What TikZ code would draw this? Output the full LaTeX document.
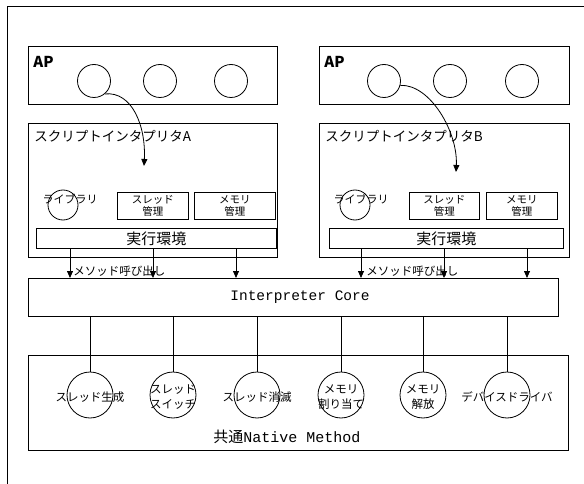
\documentclass[tikz,border=0pt]{standalone}
\usepackage{fontspec}
\setmainfont{Noto Sans CJK JP}
\newfontfamily\monofont{Liberation Mono}
\usetikzlibrary{arrows.meta}

\begin{document}
\begin{tikzpicture}[x=1pt,y=-1pt,line width=0.8pt,
  blk/.style={draw,rectangle,inner sep=0pt,anchor=north west},
  apball/.style={draw,circle,minimum size=33pt,inner sep=0pt},
  lib/.style={draw,circle,minimum size=30pt,inner sep=0pt},
  unitbox/.style={blk,font=\fontsize{10.5}{12.5}\selectfont,align=center,minimum height=27pt},
  method/.style={draw,circle,minimum size=46pt,inner sep=0pt},
  mtext/.style={font=\fontsize{11.5}{15}\selectfont,align=center,inner sep=0pt},
  call/.style={-{Triangle[width=6pt,length=7pt]}},
  boxlabel/.style={anchor=west,inner sep=0pt}]
\useasboundingbox (0,0) rectangle (584,484);
% outer frame, only the left and top edges are in the picture
\draw (7,484) -- (7,6) -- (584,6);
% application layers
\node[blk,minimum width=249pt,minimum height=58pt] (apA) at (28,46) {};
\node[blk,minimum width=250pt,minimum height=58pt] (apB) at (319,46) {};
\node[boxlabel,font=\fontsize{15}{15}\selectfont\bfseries] (apAlab) at (33,62) {AP};
\node[boxlabel,font=\fontsize{15}{15}\selectfont\bfseries] (apBlab) at (324,62) {AP};
\foreach \i/\x in {1/94, 2/160, 3/231} {\node[apball] (apA\i) at (\x,81) {};}
\foreach \i/\x in {1/384, 2/450, 3/522} {\node[apball] (apB\i) at (\x,81) {};}
% script interpreters
\node[blk,minimum width=249pt,minimum height=134pt] (siA) at (28,123) {};
\node[blk,minimum width=250pt,minimum height=134pt] (siB) at (319,123) {};
\node[boxlabel,font=\fontsize{13.5}{14}\selectfont] (siAlab) at (34,136) {スクリプトインタプリタA};
\node[boxlabel,font=\fontsize{13.5}{14}\selectfont] (siBlab) at (325,136) {スクリプトインタプリタB};
\node[lib] (libA) at (63,205) {};
\node[lib] (libB) at (355,205) {};
\node[font=\fontsize{11}{11}\selectfont,inner sep=0pt] (libAtxt) at (70,199) {ライブラリ};
\node[font=\fontsize{11}{11}\selectfont,inner sep=0pt] (libBtxt) at (361,199) {ライブラリ};
\node[unitbox,minimum width=71pt] (thA) at (117,192) {スレッド\\管理};
\node[unitbox,minimum width=81pt] (memA) at (194,192) {メモリ\\管理};
\node[unitbox,minimum width=70pt] (thB) at (409,192) {スレッド\\管理};
\node[unitbox,minimum width=71pt] (memB) at (486,192) {メモリ\\管理};
\node[blk,minimum width=240pt,minimum height=20pt,font=\fontsize{15}{15}\selectfont] (envA) at (36,228) {実行環境};
\node[blk,minimum width=234pt,minimum height=20pt,font=\fontsize{15}{15}\selectfont] (envB) at (329,228) {実行環境};
% calls from the applications into the interpreters
\coordinate (tipA) at (144,166);
\coordinate (tipB) at (456,172);
\draw[call] (apA1.-50) .. controls (132,91) and (146,126) .. (tipA);
\draw[call] (apB1.-15) .. controls (430,84) and (458,132) .. (tipB);
% interpreter core
\node[blk,minimum width=530pt,minimum height=38pt] (core) at (28,278) {};
\node[font=\fontsize{14.5}{15}\monofont,inner sep=0pt] (corelab) at (300,297) {Interpreter Core};
\foreach \x in {70,153,236,361,444,527}
  {\draw[call] (envA.south -| \x,0) -- (core.north -| \x,0);}
\node[boxlabel,font=\fontsize{11.5}{12}\selectfont] (callA) at (73,271) {メソッド呼び出し};
\node[boxlabel,font=\fontsize{11.5}{12}\selectfont] (callB) at (366,271) {メソッド呼び出し};
% common native methods
\node[blk,minimum width=540pt,minimum height=95pt] (native) at (28,355) {};
\node[inner sep=0pt] (nativelab) at (287,437)
  {\fontsize{15}{15}\selectfont 共通{\monofont Native Method}};
\foreach \i/\x/\txt in {1/90/{スレッド生成}, 2/173/{スレッド\\スイッチ}, 3/257/{スレッド消滅},
    4/341/{メモリ\\割り当て}, 5/423/{メモリ\\解放}, 6/507/{デバイスドライバ}}
  {\node[method] (nm\i) at (\x,395) {};
   \node[mtext] (nm\i txt) at (\x,397) {\txt};
   \draw (core.south -| nm\i) -- (nm\i);}
\end{tikzpicture}
\end{document}
